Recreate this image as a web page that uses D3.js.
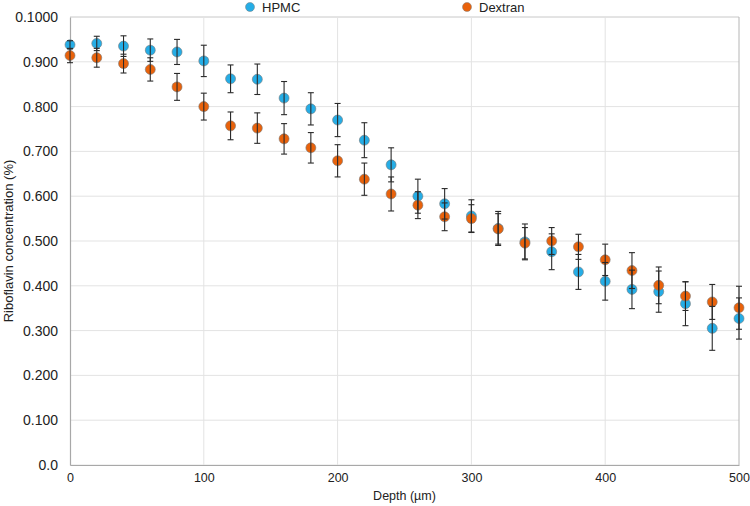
<!DOCTYPE html>
<html>
<head>
<meta charset="utf-8">
<script src="https://cdn.jsdelivr.net/npm/d3@7"></script>
<style>
  body { margin: 0; background: #fff; }
  text { font-family: "Liberation Sans", Arial, sans-serif; fill: #222; }
</style>
</head>
<body>
<svg id="chart" width="750" height="506"></svg>
<script>
// depth in µm
const depths = [0, 20, 40, 60, 80, 100, 120, 140, 160, 180, 200, 220, 240, 260, 280, 300, 320, 340, 360, 380, 400, 420, 440, 460, 480, 500];

const hpmc = [0.938, 0.941, 0.935, 0.926, 0.922, 0.902, 0.862, 0.861, 0.819, 0.795, 0.770, 0.725, 0.670, 0.600, 0.583, 0.556, 0.528, 0.498, 0.476, 0.431, 0.410, 0.392, 0.387, 0.360, 0.305, 0.327];
const hpmcErr = [0.009, 0.016, 0.023, 0.025, 0.028, 0.035, 0.031, 0.034, 0.037, 0.036, 0.037, 0.039, 0.038, 0.038, 0.034, 0.036, 0.038, 0.040, 0.040, 0.039, 0.042, 0.043, 0.046, 0.049, 0.049, 0.046];

const dextran = [0.914, 0.909, 0.896, 0.883, 0.844, 0.800, 0.757, 0.752, 0.728, 0.708, 0.679, 0.638, 0.605, 0.580, 0.554, 0.550, 0.527, 0.495, 0.500, 0.487, 0.458, 0.434, 0.401, 0.377, 0.364, 0.351];
const dextranErr = [0.016, 0.021, 0.021, 0.026, 0.030, 0.030, 0.031, 0.034, 0.034, 0.034, 0.036, 0.036, 0.038, 0.030, 0.031, 0.031, 0.034, 0.035, 0.030, 0.028, 0.035, 0.040, 0.041, 0.032, 0.039, 0.048];

const yTicks = [0, 0.1, 0.2, 0.3, 0.4, 0.5, 0.6, 0.7, 0.8, 0.9, 1.0];
const yTickLabels = ["0.0", "0.100", "0.200", "0.300", "0.400", "0.500", "0.600", "0.700", "0.800", "0.900", "0.1000"];
const xTicks = [0, 100, 200, 300, 400, 500];

const seriesNames = ["HPMC", "Dextran"];
const seriesColors = ["#25ade6", "#e9620b"];

const margin = { top: 17, right: 11, bottom: 41, left: 70 };
const width = 750 - margin.left - margin.right;
const height = 506 - margin.top - margin.bottom;

const svg = d3.select("#chart");
const ctx = svg.append("g")
    .attr("transform", `translate(${margin.left},${margin.top})`);

const xScale = d3.scaleLinear().domain([0, 500]).range([0, width]);
const yScale = d3.scaleLinear().domain([0, 1]).range([height, 0]);

// gridlines
ctx.append("g")
    .selectAll("line")
    .data(yTicks)
    .join("line")
    .attr("x1", 0).attr("x2", width)
    .attr("y1", d => yScale(d)).attr("y2", d => yScale(d))
    .attr("stroke", d => d === 1 ? "#c8c8c8" : "#e3e3e3")
    .attr("stroke-width", 1);

ctx.append("g")
    .selectAll("line")
    .data(xTicks.slice(1))
    .join("line")
    .attr("x1", d => xScale(d)).attr("x2", d => xScale(d))
    .attr("y1", 0).attr("y2", height)
    .attr("stroke", d => d === 500 ? "#b5b5b5" : "#e3e3e3")
    .attr("stroke-width", 1);

// axes
const xAxis = d3.axisBottom(xScale).tickValues(xTicks).tickSize(0).tickPadding(8);
const yAxis = d3.axisLeft(yScale).tickValues(yTicks).tickSize(0).tickPadding(12)
    .tickFormat((d, i) => yTickLabels[i]);

const xAxisG = ctx.append("g").attr("transform", `translate(0,${height})`).call(xAxis);
const yAxisG = ctx.append("g").call(yAxis);
[xAxisG, yAxisG].forEach(g => {
    g.select(".domain").attr("stroke", "#a8a8a8").attr("stroke-width", 1.2);
    g.selectAll(".tick text").attr("fill", "#222")
        .attr("font-family", "Liberation Sans, Arial, sans-serif");
});
xAxisG.selectAll(".tick text").attr("font-size", 12.5);
yAxisG.selectAll(".tick text").attr("font-size", 14);

// axis labels
ctx.append("text")
    .attr("x", width / 2)
    .attr("y", height + 35)
    .attr("text-anchor", "middle")
    .attr("font-size", 12.5)
    .text("Depth (µm)");

ctx.append("text")
    .attr("transform", "rotate(-90)")
    .attr("x", -height / 2)
    .attr("y", -57)
    .attr("text-anchor", "middle")
    .attr("font-size", 13)
    .text("Riboflavin concentration (%)");

// data
const series = [
    { name: seriesNames[0], color: seriesColors[0], values: hpmc, errs: hpmcErr },
    { name: seriesNames[1], color: seriesColors[1], values: dextran, errs: dextranErr }
];

// dots
series.forEach(s => {
    ctx.append("g")
        .selectAll("circle")
        .data(depths)
        .join("circle")
        .attr("cx", d => xScale(d))
        .attr("cy", (d, i) => yScale(s.values[i]))
        .attr("r", 5)
        .attr("fill", s.color)
        .attr("stroke", "#7a7a7a")
        .attr("stroke-width", 0.6);
});

// error bars on top
series.forEach(s => {
    const g = ctx.append("g").attr("stroke", "#2a2a2a").attr("stroke-width", 1.1);
    depths.forEach((d, i) => {
        const x = xScale(d);
        const y0 = yScale(s.values[i] - s.errs[i]);
        const y1 = yScale(s.values[i] + s.errs[i]);
        g.append("line").attr("x1", x).attr("x2", x).attr("y1", y0).attr("y2", y1);
        g.append("line").attr("x1", x - 3).attr("x2", x + 3).attr("y1", y0).attr("y2", y0);
        g.append("line").attr("x1", x - 3).attr("x2", x + 3).attr("y1", y1).attr("y2", y1);
    });
});

// legend
const legendX = [250, 467];
const legend = svg.append("g")
    .selectAll("g")
    .data(series)
    .join("g")
    .attr("transform", (d, i) => `translate(${legendX[i]},7)`);
legend.append("circle")
    .attr("r", 4.5)
    .attr("fill", d => d.color)
    .attr("stroke", "#7a7a7a")
    .attr("stroke-width", 0.5);
legend.append("text")
    .attr("x", 12)
    .attr("dy", "0.35em")
    .attr("font-size", 13)
    .text(d => d.name);
</script>
</body>
</html>
